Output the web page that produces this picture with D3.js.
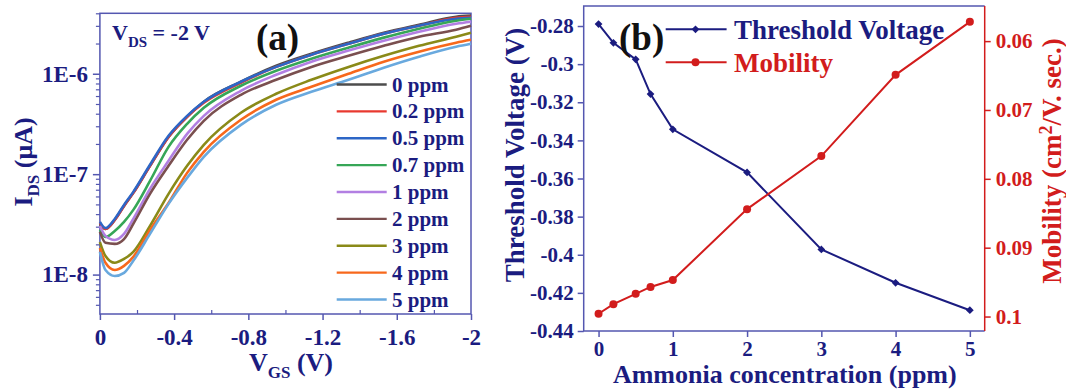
<!DOCTYPE html>
<html>
<head>
<meta charset="utf-8">
<script src="https://cdn.jsdelivr.net/npm/d3@7"></script>
<style>
  body { margin: 0; background: #fff; }
  svg text { font-family: "Liberation Serif", "Times New Roman", serif; font-weight: bold; }
</style>
</head>
<body>
<div id="chart"></div>
<script>
// ---------- panel (a): transfer curves, I_DS vs V_GS ----------
const vgs = [0, -0.03, -0.08, -0.13, -0.18, -0.27, -0.37, -0.47, -0.56, -0.76, -0.95, -1.14, -1.34, -1.53, -1.72, -1.92, -2.0];

const ids0ppm  = [3.20e-8, 2.85e-8, 3.50e-8, 4.83e-8, 6.51e-8, 1.21e-7, 2.35e-7, 3.73e-7, 5.26e-7, 8.32e-7, 1.20e-6, 1.58e-6, 2.04e-6, 2.56e-6, 3.08e-6, 3.70e-6, 3.79e-6];
const ids02ppm = [3.27e-8, 2.85e-8, 3.50e-8, 4.83e-8, 6.51e-8, 1.21e-7, 2.35e-7, 3.73e-7, 5.14e-7, 8.13e-7, 1.17e-6, 1.55e-6, 1.99e-6, 2.51e-6, 3.01e-6, 3.61e-6, 3.70e-6];
const ids05ppm = [3.35e-8, 2.91e-8, 3.58e-8, 4.94e-8, 6.66e-8, 1.24e-7, 2.41e-7, 3.81e-7, 5.26e-7, 8.32e-7, 1.17e-6, 1.55e-6, 1.99e-6, 2.51e-6, 3.01e-6, 3.53e-6, 3.61e-6];
const ids07ppm = [2.78e-8, 2.37e-8, 2.72e-8, 3.35e-8, 4.41e-8, 8.57e-8, 1.87e-7, 3.17e-7, 4.58e-7, 7.59e-7, 1.07e-6, 1.41e-6, 1.82e-6, 2.29e-6, 2.81e-6, 3.37e-6, 3.53e-6];
const ids1ppm  = [3.05e-8, 2.43e-8, 2.21e-8, 2.54e-8, 3.58e-8, 7.14e-8, 1.36e-7, 2.52e-7, 3.81e-7, 6.77e-7, 9.77e-7, 1.32e-6, 1.70e-6, 2.13e-6, 2.62e-6, 3.15e-6, 3.30e-6];
const ids2ppm  = [2.66e-8, 2.07e-8, 2.02e-8, 2.26e-8, 3.20e-8, 6.36e-8, 1.21e-7, 2.20e-7, 3.40e-7, 6.17e-7, 8.71e-7, 1.17e-6, 1.51e-6, 1.90e-6, 2.34e-6, 2.75e-6, 3.01e-6];
const ids3ppm  = [2.11e-8, 1.53e-8, 1.31e-8, 1.43e-8, 1.68e-8, 3.05e-8, 6.36e-8, 1.21e-7, 1.96e-7, 4.09e-7, 6.32e-7, 8.71e-7, 1.17e-6, 1.51e-6, 1.90e-6, 2.34e-6, 2.56e-6];
const ids4ppm  = [1.84e-8, 1.31e-8, 1.11e-8, 1.22e-8, 1.50e-8, 2.78e-8, 5.17e-8, 1.03e-7, 1.67e-7, 3.48e-7, 5.51e-7, 7.42e-7, 1.00e-6, 1.32e-6, 1.66e-6, 2.04e-6, 2.18e-6];
const ids5ppm  = [1.68e-8, 1.11e-8, 9.68e-9, 1.04e-8, 1.37e-8, 2.54e-8, 5.06e-8, 9.18e-8, 1.49e-7, 3.10e-7, 4.91e-7, 6.61e-7, 8.71e-7, 1.15e-6, 1.48e-6, 1.86e-6, 1.99e-6];

const seriesNames = ["0 ppm", "0.2 ppm", "0.5 ppm", "0.7 ppm", "1 ppm", "2 ppm", "3 ppm", "4 ppm", "5 ppm"];
const seriesColors = ["#4d4d4d", "#e8392f", "#2d66c6", "#36a657", "#b27fe2", "#7a4f4f", "#8a8a18", "#f7681c", "#69a9de"];
const seriesValues = [ids0ppm, ids02ppm, ids05ppm, ids07ppm, ids1ppm, ids2ppm, ids3ppm, ids4ppm, ids5ppm];

const xTicksA = [0, -0.4, -0.8, -1.2, -1.6, -2];
const xMinorA = [-0.2, -0.6, -1.0, -1.4, -1.8];
const yTicksA = [1e-8, 1e-7, 1e-6];

// ---------- panel (b): threshold voltage and mobility vs ammonia ----------
const concentration = [0, 0.2, 0.5, 0.7, 1, 2, 3, 4, 5];
const thresholdV = [-0.279, -0.2888, -0.2975, -0.3157, -0.3342, -0.3568, -0.3972, -0.4147, -0.4291];
const mobility = [0.0996, 0.0982, 0.0967, 0.0957, 0.0947, 0.0844, 0.0767, 0.0649, 0.0572];

const xTicksB = [0, 1, 2, 3, 4, 5];
const yTicksB = [-0.44, -0.42, -0.4, -0.38, -0.36, -0.34, -0.32, -0.3, -0.28];
const mobTicks = [0.06, 0.07, 0.08, 0.09, 0.1];

const navy = "#1b1c80";
const frame = "#5457b0";
const red = "#d21c1c";

const svg = d3.select("#chart")
	.append("svg")
	.attr("width", 1066)
	.attr("height", 389);

const fmt = d => String(+d.toFixed(2));

// ================= panel (a) =================
const A = {left: 99.9, right: 471, top: 13.3, bottom: 314};

const xA = d3.scaleLinear().domain([0, -2]).range([A.left, A.right]);
const yA = d3.scaleLog().domain([4.05e-9, 4.0e-6]).range([A.bottom, A.top]);

const gA = svg.append("g");

// frame
gA.append("rect")
	.attr("x", A.left).attr("y", A.top)
	.attr("width", A.right - A.left).attr("height", A.bottom - A.top)
	.attr("fill", "none").attr("stroke", frame).attr("stroke-width", 1.5);

// minor ticks on log axis
const yMinorA = yA.ticks().filter(v => yTicksA.indexOf(v) < 0);
gA.append("g")
	.attr("transform", `translate(${A.left},0)`)
	.call(d3.axisLeft(yA).tickValues(yMinorA).tickSize(4).tickFormat(""))
	.call(g => g.select(".domain").remove())
	.selectAll("line").attr("stroke", frame).attr("stroke-width", 1.2);

const yAxisA = gA.append("g")
	.attr("transform", `translate(${A.left},0)`)
	.call(d3.axisLeft(yA).tickValues(yTicksA).tickSize(7).tickPadding(5)
		.tickFormat(d => "1E" + Math.round(Math.log10(d))));
yAxisA.select(".domain").remove();
yAxisA.selectAll("line").attr("stroke", frame).attr("stroke-width", 1.5);
yAxisA.selectAll("text").attr("fill", navy).style("font-size", "23px");

gA.append("g")
	.attr("transform", `translate(0,${A.bottom})`)
	.call(d3.axisBottom(xA).tickValues(xMinorA).tickSize(-4).tickFormat(""))
	.call(g => g.select(".domain").remove())
	.selectAll("line").attr("stroke", frame).attr("stroke-width", 1.2);

const xAxisA = gA.append("g")
	.attr("transform", `translate(0,${A.bottom})`)
	.call(d3.axisBottom(xA).tickValues(xTicksA).tickSize(6).tickPadding(9).tickFormat(fmt));
xAxisA.select(".domain").remove();
xAxisA.selectAll("line").attr("stroke", frame).attr("stroke-width", 1.5);
xAxisA.selectAll("text").attr("fill", navy).style("font-size", "23px");

// curves
const lineA = d3.line()
	.x((d, i) => xA(vgs[i]))
	.y(d => yA(d))
	.curve(d3.curveMonotoneX);

gA.selectAll("path.curve")
	.data(seriesValues)
	.join("path")
	.attr("class", "curve")
	.attr("d", lineA)
	.attr("fill", "none")
	.attr("stroke", (d, i) => seriesColors[i])
	.attr("stroke-width", 2.6);

// legend
const legY = d3.scalePoint().domain(seriesNames).range([84.5, 299.5]);
const leg = gA.selectAll("g.leg")
	.data(seriesNames)
	.join("g")
	.attr("class", "leg")
	.attr("transform", d => `translate(0,${legY(d)})`);
leg.append("line")
	.attr("x1", 336.7).attr("x2", 386.7)
	.attr("stroke", (d, i) => seriesColors[i]).attr("stroke-width", 2.4);
leg.append("text")
	.attr("x", 392).attr("y", 7)
	.attr("fill", navy).style("font-size", "21px")
	.text(d => d);

// annotations
const vds = gA.append("text").attr("x", 112).attr("y", 40).attr("fill", navy).style("font-size", "22px");
vds.append("tspan").text("V");
vds.append("tspan").attr("dy", 7).style("font-size", "15px").text("DS");
vds.append("tspan").attr("dy", -7).text(" = -2 V");

gA.append("text").attr("x", 256).attr("y", 50).attr("fill", "#111").style("font-size", "37px").text("(a)");

// axis titles
const vgsT = gA.append("text").attr("x", 291).attr("y", 371).attr("text-anchor", "middle")
	.attr("fill", navy).style("font-size", "26px");
vgsT.append("tspan").text("V");
vgsT.append("tspan").attr("dy", 7).style("font-size", "17px").text("GS");
vgsT.append("tspan").attr("dy", -7).text(" (V)");

const idsT = gA.append("text")
	.attr("transform", "translate(32,162) rotate(-90)")
	.attr("text-anchor", "middle")
	.attr("fill", navy).style("font-size", "26px");
idsT.append("tspan").text("I");
idsT.append("tspan").attr("dy", 7).style("font-size", "17px").text("DS");
idsT.append("tspan").attr("dy", -7).text(" (\u03BCA)");

// ================= panel (b) =================
const B = {left: 583.7, right: 984.7, top: 6, bottom: 331};

const xB = d3.scaleLinear().domain([-0.2, 5.2]).range([B.left, B.right]);
const yB = d3.scaleLinear().domain([-0.44, -0.2695]).range([B.bottom, B.top]);
const yM = d3.scaleLinear().domain([0.0549, 0.1021]).range([B.top, B.bottom]);

const gB = svg.append("g");

gB.append("path")
	.attr("d", `M${B.right},${B.top}H${B.left}V${B.bottom}H${B.right}`)
	.attr("fill", "none").attr("stroke", frame).attr("stroke-width", 1.5);
gB.append("line")
	.attr("x1", B.right).attr("x2", B.right).attr("y1", B.top).attr("y2", B.bottom)
	.attr("stroke", red).attr("stroke-width", 1.5);

const yAxisB = gB.append("g")
	.attr("transform", `translate(${B.left},0)`)
	.call(d3.axisLeft(yB).tickValues(yTicksB).tickSize(6).tickPadding(4).tickFormat(fmt));
yAxisB.select(".domain").remove();
yAxisB.selectAll("line").attr("stroke", frame).attr("stroke-width", 1.5);
yAxisB.selectAll("text").attr("fill", navy).style("font-size", "21px");

const xAxisB = gB.append("g")
	.attr("transform", `translate(0,${B.bottom})`)
	.call(d3.axisBottom(xB).tickValues(xTicksB).tickSize(6).tickPadding(4).tickFormat(fmt));
xAxisB.select(".domain").remove();
xAxisB.selectAll("line").attr("stroke", frame).attr("stroke-width", 1.5);
xAxisB.selectAll("text").attr("fill", navy).style("font-size", "21px");

const mAxis = gB.append("g")
	.attr("transform", `translate(${B.right},0)`)
	.call(d3.axisRight(yM).tickValues(mobTicks).tickSize(6).tickPadding(5).tickFormat(fmt));
mAxis.select(".domain").remove();
mAxis.selectAll("line").attr("stroke", red).attr("stroke-width", 1.5);
mAxis.selectAll("text").attr("fill", red).style("font-size", "21px");

// threshold series
gB.append("path")
	.datum(thresholdV)
	.attr("d", d3.line().x((d, i) => xB(concentration[i])).y(d => yB(d)))
	.attr("fill", "none").attr("stroke", navy).attr("stroke-width", 2);
const diamond = d3.symbol(d3.symbolSquare, 30);
gB.selectAll("path.vt")
	.data(thresholdV)
	.join("path")
	.attr("class", "vt")
	.attr("d", diamond)
	.attr("transform", (d, i) => `translate(${xB(concentration[i])},${yB(d)}) rotate(45)`)
	.attr("fill", navy);

// mobility series
gB.append("path")
	.datum(mobility)
	.attr("d", d3.line().x((d, i) => xB(concentration[i])).y(d => yM(d)))
	.attr("fill", "none").attr("stroke", red).attr("stroke-width", 2);
gB.selectAll("circle.mob")
	.data(mobility)
	.join("circle")
	.attr("class", "mob")
	.attr("cx", (d, i) => xB(concentration[i]))
	.attr("cy", d => yM(d))
	.attr("r", 4)
	.attr("fill", red);

// legend (b)
const legB = [
	{name: "Threshold Voltage", color: navy, y: 29.3, mark: "d"},
	{name: "Mobility", color: red, y: 62.3, mark: "c"}
];
legB.forEach(l => {
	gB.append("line").attr("x1", 665.7).attr("x2", 726.6).attr("y1", l.y).attr("y2", l.y)
		.attr("stroke", l.color).attr("stroke-width", 2);
	if (l.mark === "d") {
		gB.append("path").attr("d", diamond)
			.attr("transform", `translate(695.5,${l.y}) rotate(45)`).attr("fill", l.color);
	} else {
		gB.append("circle").attr("cx", 695.5).attr("cy", l.y).attr("r", 4).attr("fill", l.color);
	}
	gB.append("text").attr("x", 734).attr("y", l.y + 9.5)
		.attr("fill", l.color).style("font-size", "27px").text(l.name);
});

gB.append("text").attr("x", 619).attr("y", 50).attr("fill", "#111").style("font-size", "37px").text("(b)");

// axis titles
gB.append("text").attr("x", 784.8).attr("y", 383).attr("text-anchor", "middle")
	.attr("fill", navy).style("font-size", "26px").text("Ammonia concentration (ppm)");

gB.append("text")
	.attr("transform", "translate(524,155) rotate(-90)")
	.attr("text-anchor", "middle")
	.attr("fill", navy).style("font-size", "27px").text("Threshold Voltage (V)");

const mobT = gB.append("text")
	.attr("transform", "translate(1061,161) rotate(-90)")
	.attr("text-anchor", "middle")
	.attr("fill", red).style("font-size", "27px");
mobT.append("tspan").text("Mobility (cm");
mobT.append("tspan").attr("dy", -9).style("font-size", "18px").text("2");
mobT.append("tspan").attr("dy", 9).text("/V. sec.)");
</script>
</body>
</html>
